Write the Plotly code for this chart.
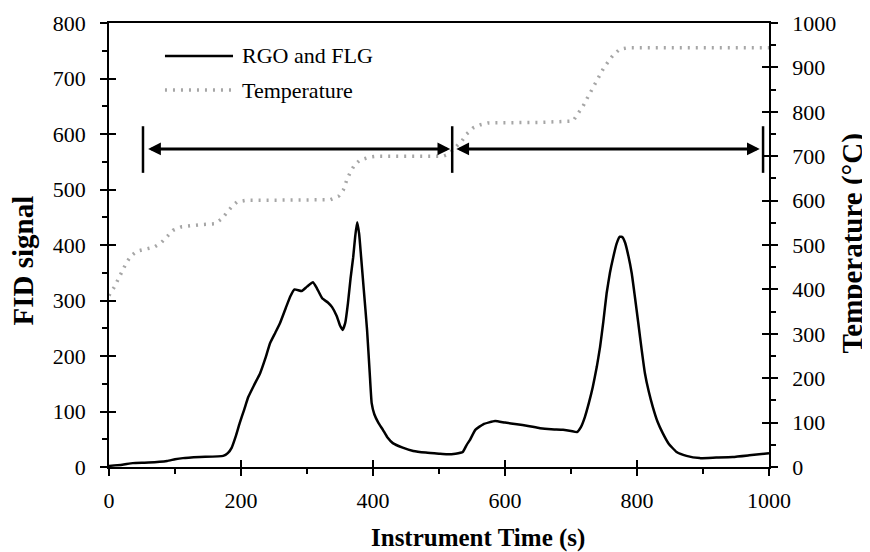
import plotly.graph_objects as go

# ---------------- data ----------------
time_fid = [0, 20, 36, 60, 88, 100, 112, 138, 173, 180, 186, 192, 198, 205, 211, 220, 229,
            237, 244, 252, 259, 268, 275, 281, 292, 300, 309, 315, 323, 332, 338, 345, 350,
            354, 358, 362, 366, 370, 373, 376, 379, 382, 386, 391, 395, 398, 402, 408, 415,
            422, 430, 445, 461, 480, 500, 512, 525, 536, 542, 547, 555, 567, 585, 600, 618,
            635, 653, 670, 688, 700, 709, 715, 721, 727, 733, 739, 744, 749, 754, 759, 764,
            769, 774, 778, 782, 787, 792, 797, 802, 807, 812, 818, 824, 831, 839, 848, 860,
            875, 895, 920, 945, 970, 1000]
fid_signal = [2, 4, 7, 8, 11, 14, 16, 18, 20, 25, 35, 55, 79, 104, 126, 148, 169,
              196, 223, 242, 259, 287, 308, 320, 317, 325, 333, 322, 304, 296, 288, 272, 255,
              247, 260, 295, 340, 378, 415, 441, 420, 378, 320, 247, 170, 115, 95, 80, 67,
              53, 43, 35, 29, 26, 24, 23, 24, 27, 40, 49, 67, 77, 83, 80, 77,
              74, 70, 68, 67, 65, 63, 72, 90, 115, 144, 180, 216, 262, 313, 350, 378,
              402, 415, 414, 404, 380, 349, 305, 259, 212, 169, 135, 108, 82, 61, 42, 27,
              20, 16, 17, 18, 21, 25]

time_temp = [0, 2, 8, 14, 20, 26, 33, 42, 56, 68, 79, 88, 97, 110, 123, 140, 161, 171, 179,
             187, 194, 209, 250, 300, 335, 348, 355, 360, 365, 372, 380, 395, 406, 450, 506,
             515, 524, 535, 542, 552, 563, 574, 650, 703, 711, 718, 724, 733, 741, 749, 756,
             764, 774, 785, 900, 1000]
temperature = [386, 392, 405, 423, 441, 459, 475, 486, 491, 495, 505, 520, 533, 541, 544, 546,
               548, 559, 574, 588, 597, 601, 601, 601, 602, 610, 624, 645, 662, 680, 691, 698,
               700, 700, 700, 705, 718, 735, 750, 764, 771, 775, 776, 779, 797, 812, 829, 854,
               878, 897, 912, 928, 941, 944, 944, 944]

x_tickvals = [0, 200, 400, 600, 800, 1000]
fid_tickvals = [0, 100, 200, 300, 400, 500, 600, 700, 800]
temp_tickvals = [0, 100, 200, 300, 400, 500, 600, 700, 800, 900, 1000]

series_names = ["RGO and FLG", "Temperature"]

# double-headed range arrows (instrument time, FID-signal level)
arrow_level = 573
arrow_starts = [57, 524]
arrow_ends = [517, 986]
bar_times = [51.5, 520, 991]
bar_low, bar_high = 530, 614

FONT = "Liberation Serif"
GRAY = "#A6A6A6"
DOTS = "2px,6px"

fig = go.Figure()
fig.add_trace(go.Scatter(x=time_fid, y=fid_signal, mode="lines", name=series_names[0],
                         line=dict(color="black", width=2.5, shape="spline", smoothing=0.4),
                         showlegend=False))
fig.add_trace(go.Scatter(x=time_temp, y=temperature, mode="lines", name=series_names[1],
                         yaxis="y2", line=dict(color=GRAY, width=3.5, dash=DOTS),
                         showlegend=False))
# invisible traces that carry the inner halves of the crossing major ticks
fig.add_trace(go.Scatter(x=[None], y=[None], xaxis="x2", yaxis="y3", showlegend=False,
                         hoverinfo="skip"))
fig.add_trace(go.Scatter(x=[None], y=[None], xaxis="x2", yaxis="y4", showlegend=False,
                         hoverinfo="skip"))

tickfont = dict(family=FONT, size=22, color="black")
axline = dict(showline=True, linecolor="black", linewidth=1.5, showgrid=False, zeroline=False,
              automargin=False)
inner = dict(ticks="inside", ticklen=7, tickwidth=1.5, tickcolor="black",
             showticklabels=False, showline=False, showgrid=False, zeroline=False,
             automargin=False)

# the page adds an 8px body margin, so the figure is sized 8px smaller and offset
fig.update_layout(
    width=862, height=544, autosize=False,
    margin=dict(l=101, r=101, t=15, b=85),
    paper_bgcolor="white", plot_bgcolor="white",
    xaxis=dict(range=[0, 1000], tickvals=x_tickvals, ticks="outside", ticklen=7, tickwidth=1.5,
               tickcolor="black", tickfont=tickfont, ticklabelstandoff=6, mirror=True,
               minor=dict(dtick=100, tick0=0, ticks="outside", ticklen=5, tickwidth=1.5,
                          tickcolor="black"),
               **axline),
    xaxis2=dict(range=[0, 1000], overlaying="x", anchor="y", side="bottom", tickvals=x_tickvals,
                **inner),
    yaxis=dict(range=[0, 800], tickvals=fid_tickvals, ticks="outside", ticklen=7, tickwidth=1.5,
               tickcolor="black", tickfont=tickfont, ticklabelstandoff=10, mirror=True,
               minor=dict(dtick=50, tick0=0, ticks="outside", ticklen=5, tickwidth=1.5,
                          tickcolor="black"),
               **axline),
    yaxis2=dict(range=[0, 1000], overlaying="y", side="right", anchor="x", tickvals=temp_tickvals,
                ticks="outside", ticklen=7, tickwidth=1.5, tickcolor="black", tickfont=tickfont,
                ticklabelstandoff=10,
                minor=dict(dtick=50, tick0=0, ticks="outside", ticklen=5, tickwidth=1.5,
                           tickcolor="black"),
                **axline),
    yaxis3=dict(range=[0, 800], overlaying="y", side="left", anchor="x", tickvals=fid_tickvals,
                **inner),
    yaxis4=dict(range=[0, 1000], overlaying="y", side="right", anchor="x",
                tickvals=temp_tickvals, **inner),
    showlegend=False,
)

# axis titles
fig.add_annotation(text="<b>Instrument Time (s)</b>", xref="paper", yref="paper",
                   x=0.559, y=-0.16, xanchor="center", yanchor="middle", showarrow=False,
                   font=dict(family=FONT, size=25, color="black"))
fig.add_annotation(text="<b>FID signal</b>", xref="paper", yref="paper",
                   x=-0.131, y=0.464, xanchor="center", yanchor="middle", showarrow=False,
                   textangle=-90, font=dict(family=FONT, size=29, color="black"))
fig.add_annotation(text="<b>Temperature (°C)</b>", xref="paper", yref="paper",
                   x=1.126, y=0.504, xanchor="center", yanchor="middle", showarrow=False,
                   textangle=-90, font=dict(family=FONT, size=29, color="black"))

# legend (drawn manually to match the long sample lines)
leg_x0, leg_x1, leg_tx = 0.0848, 0.1879, 0.1985
leg_rows = [0.9257, 0.849]
leg_styles = [dict(color="black", width=2.5), dict(color=GRAY, width=3.5, dash=DOTS)]
for name, yy, st in zip(series_names, leg_rows, leg_styles):
    fig.add_shape(type="line", xref="paper", yref="paper", x0=leg_x0, x1=leg_x1, y0=yy, y1=yy,
                  line=st)
    fig.add_annotation(text=name, xref="paper", yref="paper", x=leg_tx, y=yy, xanchor="left",
                       yanchor="middle", showarrow=False,
                       font=dict(family=FONT, size=22, color="black"))

# range arrows
for xs, xe in zip(arrow_starts, arrow_ends):
    fig.add_annotation(x=xe, y=arrow_level, ax=xs, ay=arrow_level, xref="x", yref="y",
                       axref="x", ayref="y", text="", showarrow=True, arrowhead=2,
                       startarrowhead=2, arrowside="end+start", arrowwidth=3, arrowsize=0.85,
                       startarrowsize=0.85, arrowcolor="black")
for bx in bar_times:
    fig.add_shape(type="line", xref="x", yref="y", x0=bx, x1=bx, y0=bar_low, y1=bar_high,
                  line=dict(color="black", width=2.5))

fig.write_html("out.html")
